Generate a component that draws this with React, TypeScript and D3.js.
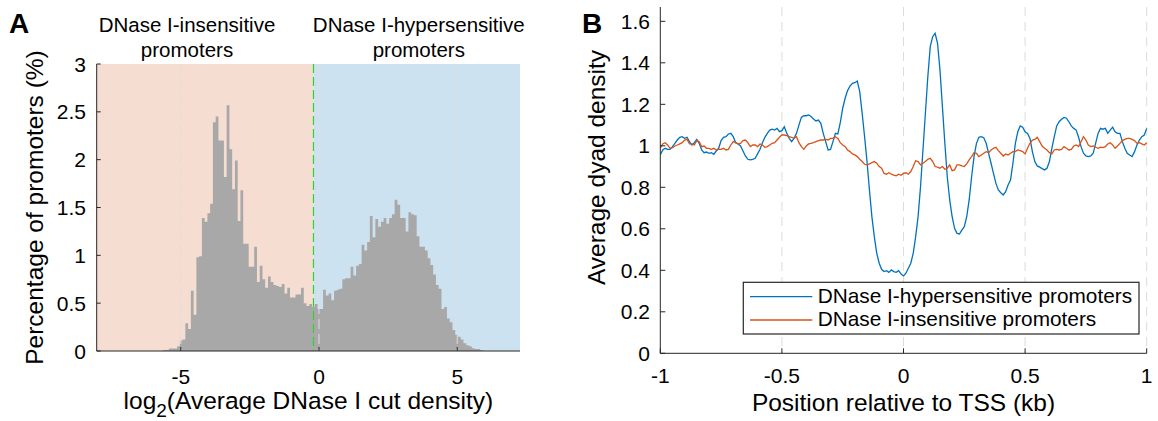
import React from "react";
import * as d3 from "d3";

// ---------- Panel A data: histogram of log2(average DNase I cut density) ----------
const HIST_START = -5.63;
const HIST_BIN_WIDTH = 0.0996;
const histInsensitive = [
  0.01, 0.01, 0.025, 0.025, 0.025, 0.05, 0.11, 0.12, 0.29, 0.23,
  0.63, 0.38, 0.98, 0.99, 1.39, 1.35, 1.44, 1.54, 2.39, 2.45,
  2.2, 2.2, 1.82, 2.57, 2.11, 1.69, 1.99, 1.36, 1.68, 1.12,
  1.12, 0.88, 0.88, 1.09, 0.72, 0.89, 0.75, 0.66, 0.78, 0.72,
  0.69, 0.68, 0.67, 0.7, 0.6, 0.66, 0.56, 0.56, 0.59, 0.59,
  0.66, 0.5, 0.47,
];
const histHypersensitive = [
  0.49, 0.46, 0.49, 0.44, 0.44, 0.64, 0.58, 0.6, 0.53, 0.63,
  0.64, 0.65, 0.75, 0.76, 0.76, 0.88, 0.79, 0.89, 0.91, 1.11,
  1.05, 1.14, 1.41, 1.19, 1.38, 1.3, 1.35, 1.39, 1.33, 1.39,
  1.43, 1.58, 1.53, 1.39, 1.39, 1.25, 1.45, 1.43, 1.42, 1.2,
  1.09, 1.09, 1.05, 0.97, 0.9, 0.8, 0.69, 0.65, 0.44, 0.46,
  0.34, 0.3, 0.22, 0.17, 0.15, 0.12, 0.08, 0.06, 0.05, 0.03,
  0.02, 0.02, 0.01,
];
const histThreshold = -0.2;
const histXDomain = [-8.04, 7.27];
const histYDomain = [0, 3];
const histXTicks = [-5, 0, 5];
const histYTicks = [0, 0.5, 1, 1.5, 2, 2.5, 3];
const regionLabels = [
  ["DNase I-insensitive", "promoters"],
  ["DNase I-hypersensitive", "promoters"],
];

// ---------- Panel B data: average dyad density around TSS ----------
const POS_START = -1;
const POS_STEP = 0.01;
const hyperDensity = [
  0.956, 0.98, 0.988, 0.983, 0.983, 0.996, 1.012, 1.028, 1.041, 1.044,
  1.036, 1.041, 1.02, 1.004, 1.015, 1.031, 1.012, 0.98, 0.967, 0.97,
  0.964, 0.967, 0.959, 0.975, 0.988, 1.025, 1.041, 1.044, 1.057, 1.06,
  1.044, 1.015, 1.009, 0.999, 0.975, 0.951, 0.935, 0.932, 0.935, 0.94,
  0.961, 0.983, 1.015, 1.041, 1.06, 1.076, 1.08, 1.076, 1.084, 1.068,
  1.073, 1.092, 1.06, 1.036, 1.02, 1.036, 1.06, 1.1, 1.137, 1.145,
  1.145, 1.149, 1.141, 1.129, 1.12, 1.124, 1.108, 1.06, 1.02, 0.98,
  0.983, 1.02, 1.06, 1.057, 1.112, 1.181, 1.229, 1.266, 1.288, 1.301,
  1.304, 1.312, 1.261, 1.157, 1.044, 0.924, 0.787, 0.659, 0.562, 0.482,
  0.434, 0.405, 0.394, 0.398, 0.39, 0.402, 0.394, 0.39, 0.398, 0.382,
  0.373,
  0.386, 0.41, 0.434, 0.482, 0.562, 0.659, 0.803, 0.98, 1.157, 1.333,
  1.478, 1.526, 1.542, 1.494, 1.365, 1.189, 1.012, 0.851, 0.739, 0.659,
  0.602, 0.578, 0.575, 0.594, 0.61, 0.659, 0.739, 0.851, 0.948, 1.012,
  1.041, 1.044, 1.039, 1.012, 0.964, 0.916, 0.867, 0.819, 0.787, 0.774,
  0.763, 0.779, 0.811, 0.835, 0.916, 1.012, 1.068, 1.096, 1.09, 1.068,
  1.06, 1.036, 0.972, 0.924, 0.903, 0.897, 0.89, 0.884, 0.892, 0.924,
  0.988, 1.044, 1.096, 1.116, 1.128, 1.137, 1.133, 1.116, 1.096, 1.084,
  1.076, 1.041, 0.996, 0.964, 0.951, 0.948, 0.951, 0.964, 1.012, 1.06,
  1.084, 1.08, 1.084, 1.06, 1.076, 1.09, 1.068, 1.06, 1.06, 1.02,
  0.988, 0.964, 0.956, 0.948, 0.972, 1.004, 1.028, 1.044, 1.052, 1.084,
];
const insensDensity = [
  0.988, 1.009, 1.015, 1.004, 0.988, 0.991, 0.999, 1.004, 1.009, 1.015,
  1.028, 1.031, 1.009, 1.009, 1.004, 1.025, 1.02, 0.996, 0.999, 0.988,
  0.988, 0.983, 0.988, 0.98, 0.983, 0.983, 0.988, 0.98, 0.983, 1.004,
  1.02, 1.015, 1.009, 1.012, 1.025, 1.028, 1.015, 0.996, 1.004, 1.004,
  0.996, 1.009, 1.004, 0.993, 0.996, 1.004, 1.012, 1.015, 1.028, 1.041,
  1.052, 1.052, 1.049, 1.044, 1.041, 1.036, 1.044, 1.015, 0.996, 0.983,
  0.999, 1.009, 1.012, 1.015, 1.02, 1.025, 1.028, 1.028, 1.031, 1.028,
  1.036, 1.036, 1.044, 1.036, 1.015, 1.004, 0.996, 0.98, 0.972, 0.961,
  0.956, 0.948, 0.935, 0.924, 0.911, 0.908, 0.913, 0.919, 0.924, 0.916,
  0.9, 0.892, 0.867, 0.863, 0.87, 0.863, 0.859, 0.855, 0.863, 0.858,
  0.867,
  0.87, 0.863, 0.876, 0.9, 0.928, 0.924, 0.908, 0.916, 0.924, 0.935,
  0.94, 0.924, 0.9, 0.897, 0.892, 0.9, 0.887, 0.892, 0.908, 0.88,
  0.884, 0.908, 0.908, 0.903, 0.9, 0.913, 0.932, 0.948, 0.967, 0.964,
  0.948, 0.956, 0.964, 0.972, 0.967, 0.98, 0.988, 0.993, 0.977, 0.964,
  0.951, 0.961, 0.956, 0.964, 0.972, 0.972, 0.98, 0.977, 0.972, 0.961,
  0.988, 1.012, 1.028, 1.031, 1.041, 1.02, 0.999, 0.988, 0.98, 0.967,
  0.961, 0.98, 0.983, 0.98, 0.983, 0.996, 0.988, 0.98, 0.983, 0.999,
  1.004, 0.996, 1.02, 1.044, 1.028, 1.004, 0.996, 0.999, 0.993, 0.988,
  0.993, 0.991, 0.996, 1.009, 1.015, 1.004, 0.988, 0.999, 1.012, 1.025,
  1.031, 1.036, 1.036, 1.031, 1.025, 1.012, 1.015, 1.009, 1.004, 1.015,
];
const dyadXDomain = [-1, 1];
const dyadYDomain = [0, 1.669];
const dyadXTicks = [-1, -0.5, 0, 0.5, 1];
const dyadYTicks = [0, 0.2, 0.4, 0.6, 0.8, 1, 1.2, 1.4, 1.6];
const legendNames = ["DNase I-hypersensitive promoters", "DNase I-insensitive promoters"];

const FONT = "'Liberation Sans', Arial, Helvetica, sans-serif";
const BLUE = "#0072BD";
const ORANGE = "#D95319";

export default function App() {
  // Panel A scales
  const ax = d3.scaleLinear().domain(histXDomain).range([96.7, 520]);
  const ay = d3.scaleLinear().domain(histYDomain).range([351, 64]);
  const histAll = [...histInsensitive, ...histHypersensitive];
  // step outline through bin edges (last value repeated to close final bin)
  const stepPts = [...histAll, histAll[histAll.length - 1]].map((v, i) => ({
    x: HIST_START + i * HIST_BIN_WIDTH,
    v,
  }));
  const histArea = d3
    .area<{ x: number; v: number }>()
    .x((d) => ax(d.x))
    .y0(ay(0))
    .y1((d) => ay(d.v))
    .curve(d3.curveStepAfter);

  // Panel B scales
  const bx = d3.scaleLinear().domain(dyadXDomain).range([660.3, 1146.7]);
  const by = d3.scaleLinear().domain(dyadYDomain).range([353.3, 7]);
  const positions = hyperDensity.map((_, i) => POS_START + i * POS_STEP);
  const line = d3
    .line<number>()
    .x((_, i) => bx(positions[i]))
    .y((d) => by(d));

  const [ax0, ax1] = ax.range();
  const [ay0, ay1] = ay.range();
  const [bx0, bx1] = bx.range();
  const [by0, by1] = by.range();

  return (
    <svg
      width={1158}
      height={421}
      style={{ position: "absolute", left: 0, top: 0, background: "#fff" }}
      fontFamily={FONT}
    >
      <defs>
        <clipPath id="clipB">
          <rect x={bx0} y={by1} width={bx1 - bx0 + 1} height={by0 - by1} />
        </clipPath>
      </defs>

      {/* ---------- Panel A ---------- */}
      <rect x={ax0} y={ay1} width={ax(histThreshold) - ax0} height={ay0 - ay1} fill="#f6ddd2" />
      <rect x={ax(histThreshold)} y={ay1} width={ax1 - ax(histThreshold)} height={ay0 - ay1} fill="#cde2f0" />
      <path d={histArea(stepPts) || ""} fill="#a8a8a8" stroke="none" />
      {histXTicks.map((t) => (
        <line key={t} x1={ax(t)} x2={ax(t)} y1={ay1} y2={ay0} stroke="#dedede" strokeWidth={1} strokeDasharray="10,5" />
      ))}
      <line
        x1={ax(histThreshold)}
        x2={ax(histThreshold)}
        y1={ay1}
        y2={ay0}
        stroke="#2bd62b"
        strokeWidth={1.2}
        strokeDasharray="9,4"
      />
      <line x1={ax0} x2={ax0} y1={ay1} y2={ay0} stroke="#262626" strokeWidth={1} />
      <line x1={ax0} x2={ax1} y1={ay0} y2={ay0} stroke="#262626" strokeWidth={1} />
      {histYTicks.map((t) => (
        <g key={t}>
          <line x1={ax0} x2={ax0 + 4} y1={ay(t)} y2={ay(t)} stroke="#262626" />
          <text x={86} y={ay(t)} dy="0.36em" textAnchor="end" fontSize={21} fill="#000">
            {String(t)}
          </text>
        </g>
      ))}
      {histXTicks.map((t) => (
        <g key={t}>
          <line x1={ax(t)} x2={ax(t)} y1={ay0} y2={ay0 - 4} stroke="#262626" />
          <text x={ax(t)} y={384} textAnchor="middle" fontSize={21} fill="#000">
            {String(t)}
          </text>
        </g>
      ))}
      {regionLabels.map((lines, k) => {
        const cx = k === 0 ? 187 : 418.8;
        return (
          <text key={k} x={cx} y={32} textAnchor="middle" fontSize={20.5} fill="#000">
            <tspan x={cx}>{lines[0]}</tspan>
            <tspan x={cx} dy={25.4}>{lines[1]}</tspan>
          </text>
        );
      })}
      <text x={308.4} y={409} textAnchor="middle" fontSize={24.5} fill="#000">
        log<tspan dy={8} fontSize={19}>2</tspan>
        <tspan dy={-8}>(Average DNase I cut density)</tspan>
      </text>
      <text
        transform={`translate(43,${(ay0 + ay1) / 2}) rotate(-90)`}
        textAnchor="middle"
        fontSize={24.5}
        fill="#000"
      >
        Percentage of promoters (%)
      </text>
      <text x={9} y={33} fontSize={28} fontWeight="bold" fill="#000">
        A
      </text>

      {/* ---------- Panel B ---------- */}
      {dyadXTicks
        .filter((t) => t !== dyadXDomain[0])
        .map((t) => (
          <line key={t} x1={bx(t)} x2={bx(t)} y1={by1} y2={by0} stroke="#dcdcdc" strokeWidth={1} strokeDasharray="9,6" />
        ))}
      <g clipPath="url(#clipB)">
        <path d={line(hyperDensity) || ""} fill="none" stroke={BLUE} strokeWidth={1.3} />
        <path d={line(insensDensity) || ""} fill="none" stroke={ORANGE} strokeWidth={1.3} />
      </g>
      <line x1={bx0} x2={bx0} y1={by1} y2={by0} stroke="#262626" strokeWidth={1} />
      <line x1={bx0} x2={bx1} y1={by0} y2={by0} stroke="#262626" strokeWidth={1} />
      {dyadYTicks.map((t) => (
        <g key={t}>
          <line x1={bx0} x2={bx0 + 5} y1={by(t)} y2={by(t)} stroke="#262626" />
          <text x={650} y={by(t)} dy="0.36em" textAnchor="end" fontSize={21} fill="#000">
            {String(t)}
          </text>
        </g>
      ))}
      {dyadXTicks.map((t) => (
        <g key={t}>
          <line x1={bx(t)} x2={bx(t)} y1={by0} y2={by0 - 5} stroke="#262626" />
          <text x={bx(t)} y={382.5} textAnchor="middle" fontSize={21} fill="#000">
            {String(t)}
          </text>
        </g>
      ))}
      <text x={(bx0 + bx1) / 2} y={411} textAnchor="middle" fontSize={24.5} fill="#000">
        Position relative to TSS (kb)
      </text>
      <text transform={`translate(605,167.5) rotate(-90)`} textAnchor="middle" fontSize={24.5} fill="#000">
        Average dyad density
      </text>
      <text x={582} y={33} fontSize={28} fontWeight="bold" fill="#000">
        B
      </text>

      {/* Legend */}
      <rect x={743.3} y={282.3} width={395.7} height={51.7} fill="#fff" stroke="#262626" strokeWidth={1.2} />
      {legendNames.map((name, i) => (
        <g key={name}>
          <line x1={750} x2={812.3} y1={296.7 + i * 23.3} y2={296.7 + i * 23.3} stroke={i === 0 ? BLUE : ORANGE} strokeWidth={1.3} />
          <text x={817.7} y={303 + i * 23.3} fontSize={20.8} fill="#000">
            {name}
          </text>
        </g>
      ))}
    </svg>
  );
}
